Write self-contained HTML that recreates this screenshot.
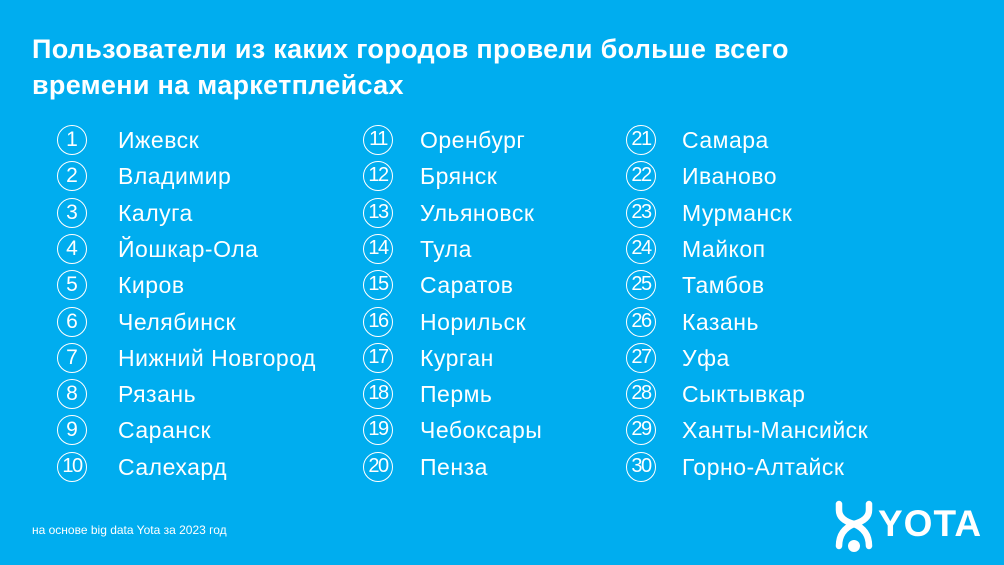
<!DOCTYPE html>
<html><head><meta charset="utf-8"><style>
body{margin:0;width:1004px;height:565px;background:#00adef;position:relative;overflow:hidden;font-family:"Liberation Sans","DejaVu Sans",sans-serif;color:#fff}
.t{position:absolute;left:32px;top:31px;font-size:27px;font-weight:bold;line-height:36px;letter-spacing:0.3px}
.c{position:absolute;width:30px;height:30px;border:1.5px solid #fff;border-radius:50%;box-sizing:border-box;text-align:center;font-size:21px;line-height:27px}
.n{position:absolute;font-size:23px;line-height:26px;letter-spacing:0.5px}
.f{position:absolute;left:32px;top:523px;font-size:12px}
</style></head><body>
<div class="t">Пользователи из каких городов провели больше всего<br>времени на маркетплейсах</div>
<div id="L"></div>
<div class="f">на основе big data Yota за 2023 год</div>
<svg style="position:absolute;left:834px;top:500px" width="40" height="56" viewBox="0 0 40 56">
<path d="M5 4 V10 Q5 20 20 24 Q35 20 35 10 V4" fill="none" stroke="#fff" stroke-width="6.5" stroke-linecap="round"/>
<path d="M20 24 Q5 30 5 46 M20 24 Q35 30 35 46" fill="none" stroke="#fff" stroke-width="6.5" stroke-linecap="round"/>
<circle cx="20" cy="46" r="6" fill="#fff"/></svg>
<div style="position:absolute;left:878px;top:503px;font-size:37px;font-weight:bold;letter-spacing:1px;line-height:42px">YOTA</div>
<script>
var names=["Ижевск","Владимир","Калуга","Йошкар-Ола","Киров","Челябинск","Нижний Новгород","Рязань","Саранск","Салехард","Оренбург","Брянск","Ульяновск","Тула","Саратов","Норильск","Курган","Пермь","Чебоксары","Пенза","Самара","Иваново","Мурманск","Майкоп","Тамбов","Казань","Уфа","Сыктывкар","Ханты-Мансийск","Горно-Алтайск"];
var cx=[72,378,641],tx=[118,420,682],h="";
for(var i=0;i<30;i++){var col=Math.floor(i/10),r=i%10,y=140+r*36.3;
h+='<div class="c" style="left:'+(cx[col]-15)+'px;top:'+(y-15)+'px;'+(i>=9?'letter-spacing:-1.5px;font-size:20px':'')+'">'+(i+1)+'</div>';
h+='<div class="n" style="left:'+tx[col]+'px;top:'+(y-13)+'px">'+names[i]+'</div>';}
document.getElementById("L").innerHTML=h;
</script>
</body></html>
